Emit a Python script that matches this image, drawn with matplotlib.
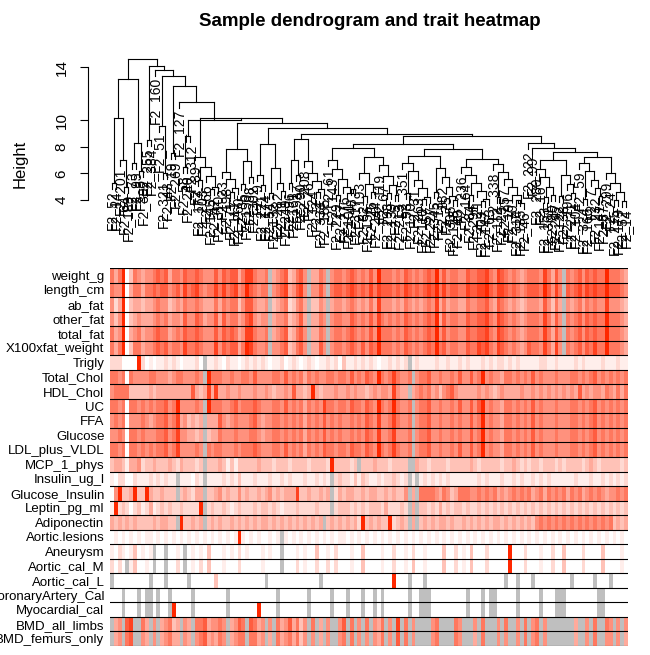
import numpy as np
import matplotlib
matplotlib.use("Agg")
import matplotlib.pyplot as plt
from matplotlib.colors import LinearSegmentedColormap

plt.rcParams["font.family"] = ["Liberation Sans", "DejaVu Sans"]

# ---------------- trait heatmap (0-9 = intensity, g = missing) ----------------
traits = ["weight_g", "length_cm", "ab_fat", "other_fat", "total_fat", "X100xfat_weight",
          "Trigly", "Total_Chol", "HDL_Chol", "UC", "FFA", "Glucose", "LDL_plus_VLDL",
          "MCP_1_phys", "Insulin_ug_l", "Glucose_Insulin", "Leptin_pg_ml", "Adiponectin",
          "Aortic.lesions", "Aneurysm", "Aortic_cal_M", "Aortic_cal_L", "CoronaryArtery_Cal",
          "Myocardial_cal", "BMD_all_limbs", "BMD_femurs_only"]

heat_rows = [
    "6469036545 5676746657 6676555757 6774688655 6g45673467 5g4465g566 5676565759 6665657656 5676957566 5576677865 8765654566 6586475g65 6757676696 6654",
    "6559046646 6767756758 6786566868 6785697656 6g56784578 5g5575g677 6787676868 7776768767 6787968677 6687788976 8876765677 7697586g76 7868787797 7765",
    "5249034434 4565534546 5565444646 5663577544 5g34562356 4g3354g455 4565454648 5554546545 4565846455 4465566754 7654543455 5475364g54 5646565585 5543",
    "5359034544 4565645547 5576455747 5664578545 5g45563457 4g4465g566 5576565758 6565657656 5676947566 5576677865 8765654566 6586475g65 6757676696 6654",
    "6459045645 5676645657 6676555757 6764588655 6g45673467 5g4465g566 5676565759 6665657656 5676957566 5576677865 8765654566 6586475g65 6757676696 6654",
    "6469036645 5676756658 6676555857 6774698655 6g55673467 5g4475g566 5676575769 6665657656 5676967566 5576687865 8765654576 6586485g65 6757686696 6654",
    "2220000920 1011212101 1120g11210 2110121212 1011201210 1210112120 3112121210 1121212g12 1111211211 2121112121 2212121111 1221121111 2121111211 1211",
    "6656065555 6655545665 5565g96665 5655665755 5566575656 4656556656 6575657659 65686556g5 6675565565 7557569565 5466565657 5655565556 6565675656 5656",
    "5666633333 4344444444 4743484844 5445444544 5434454744 3494344454 4545443454 5548544g45 6564535675 4444454543 4544445445 4545454545 4745455465 4646",
    "6656066565 6566756955 5565g96665 5675666765 5566575656 4656586656 6576657659 65696556g5 6675565565 7557579565 5466565657 5655565556 6565675656 5656",
    "5656055565 4566756845 3434g44475 4565556754 5566565656 4656575656 5565657658 55686556g5 6675565565 6557569565 5466565657 5655565556 6565675656 5656",
    "5565066565 5566756855 4434g34465 5565556654 5566565656 4656575656 5565657658 55685556g5 6675565565 6557569565 5466565657 5655565556 6565675656 5656",
    "6656066565 6566756855 5565g65665 5565666765 5566575656 4656576656 6576657659 65686556g5 6675565565 7557569565 5466565657 5655565556 6565675656 5656",
    "3443144523 3433343243 3323g33343 1313333343 3323332333 3233332933 3323g33343 3323333gg4 3323333233 3334323333 3233432323 3233323233 3323432333 3323",
    "1022002111 2121211g11 1021g11112 1213111211 1211212111 2112121g23 2213132112 1223212g1g 1212121211 1111121211 1211212112 1212111111 2111211212 1212",
    "0593349339 4334333g34 3244g33453 4335343343 4534344483 3433434g24 3443343443 3434335g4g 6666546534 6665565656 4545656564 5646565646 5645656545 5656",
    "1923202312 4123232232 2229g23223 2123222323 3232122232 2223222g23 3323232333 2422232g4g 3323242323 3232232323 2323232323 2323232323 2323232323 2323",
    "4343434333 3434433g93 3434g34343 3434343434 4343434343 43434g3434 3434293434 3392343g4g 3434344343 3434343434 4343434343 5656565656 5656565656 3434",
    "0101010101 1010101010 1010101010 1019101010 0101g10101 0101010101 1010101010 1010101010 1010101010 1010101010 1010101010 1010101010 1010101010 1010",
    "1021013010 1g00g0010g 0101030001 0102010001 0100g00010 1003001020 0010030000 1002001020 0100003002 0103000200 0009000200 0100200300 0020000300 0010",
    "2020g13001 0g00g0020g 0102030001 0002000001 0000g00020 1002002020 0010030000 1002001030 0100003002 0103000200 0009000200 0100200300 0020000300 0010",
    "g000000000 g000g00000 g000000300 0000000000 g000000000 0000g00000 0000000000 0009000g00 0g00000000 0000000000 00g00g000g 000000000g 00000g000g 0000",
    "000g000g0g g0g00g0000 0g00000000 g000000000 000g000000 0g00000g00 0g000g00g0 g000000g00 ggg0000000 00g000g0gg 00000g0000 0g000ggg00 000000gg00 0000",
    "000g000g0g g0g00g9000 0g00000000 g000000090 000g000000 0g00000g00 0g000g00g0 g000000g00 ggg0000000 00g000g0gg 00000g0000 0g000ggg00 000000gg00 0000",
    "g45g78gg64 g5g45634g5 4g66745565 g4576g7645 g5g6457463 5g6g4g5gg5 7g6g5g6g54 6g5g8g6g5g ggg56gggg6 5ggg5g6ggg 5g6gg5g6g5 6g5ggggggg 4gg5g6gg65 g5g5",
    "g45g67gg54 g5g45644g5 4g56745465 g4566g6645 g4g6456463 5g5g4g5gg5 6g6g5g5g54 6g5g7g6g5g ggg56gggg6 5ggg4g6ggg 5g5gg5g6g5 6g5ggggggg 4gg5g6gg55 g5g4",
]

# ---------------- dendrogram merge heights ----------------
leaf_ids = [52, 14, 201, 64, 189, 73, 95, 8, 392, 255, 384, 160, 51, 321, 43, 19, 269, 127,
            58, 240, 312, 89, 177, 203, 66, 145, 42, 310, 23, 198, 71, 117, 260, 35, 150, 88,
            302, 9, 221, 174, 54, 132, 282, 11, 249, 96, 161, 37, 290, 208, 76, 124, 2, 333,
            185, 61, 143, 229, 17, 276, 101, 48, 317, 193, 82, 156, 26, 244, 119, 67, 298, 139,
            5, 213, 351, 93, 170, 31, 263, 110, 57, 227, 345, 13, 182, 75, 305, 128, 40, 236,
            164, 84, 291, 21, 209, 147, 63, 338, 112, 29, 257, 191, 70, 314, 135, 46, 222, 99,
            280, 16, 153, 361, 80, 247, 122, 38, 196, 271, 104, 59, 324, 166, 7, 232, 141, 87,
            299, 24, 215, 179]

L = None


def ladder(hs, items):
    res = items[-1]
    for item, h in zip(reversed(items[:-1]), hs):
        res = (h, item, res)
    return res


G0 = (13.1, (10.2, (5.3, L, L), (7.0, L, (5.0, L, L))), (8.3, (6.8, L, L), (6.2, L, L)))
A = ladder([5.0, 5.8, 6.5, 7.2], [L, (5.5, L, L), L, (4.8, L, L), L])
B = (7.8, ladder([4.9, 5.6, 6.1], [L, L, (4.6, L, L), L]), (6.9, (5.2, L, L), (5.7, L, L)))
C = (8.2, ladder([5.1, 5.9], [L, L, L]), ladder([4.7, 5.3, 6.4], [(4.5, L, L), L, L, L]))
D = (8.6, (7.0, (5.3, L, L), (5.9, L, L)), ladder([4.8, 5.4, 6.0, 6.9], [L, L, L, (4.6, L, L), L]))
CC1 = (7.9, ladder([4.5, 5.0, 5.6, 6.3, 7.0], [L, L, (4.4, L, L), L, L, (4.8, L, L)]),
       (7.2, ladder([4.6, 5.2, 6.0], [L, (4.3, L, L), L, L]),
        ladder([4.4, 5.1, 5.8, 6.6], [L, L, (4.5, L, L), L, L])))
X1 = ladder([4.2, 4.9, 5.5, 6.2, 6.8], [L, (4.5, L, L), L, L, (4.1, L, L), L])
X2 = ladder([4.3, 5.0, 5.7, 6.4], [(4.6, L, L), L, L, L, (4.0, L, L)])
X3 = ladder([4.1, 4.7, 5.3, 5.9, 6.5], [L, L, (4.4, L, L), L, (3.9, L, L), L])
X4 = ladder([3.8, 4.4, 5.0, 5.6, 6.1, 6.7], [L, (4.2, L, L), L, L, L, (4.0, L, L), L])
CC = (8.2, CC1, (7.8, (7.3, X1, X2), (7.1, X3, X4)))
Y1 = ladder([4.4, 5.0, 5.7, 6.3], [L, L, (4.2, L, L), L, L])
Y2 = ladder([4.5, 5.2, 5.9], [(4.3, L, L), L, L, L])
Y3 = ladder([4.3, 4.9, 5.5, 6.2, 6.8], [L, (4.1, L, L), L, L, L, L])
Y4 = ladder([3.9, 4.6, 5.3, 6.0], [L, L, (4.0, L, L), L, L])
RC = (8.3, L, (7.9, L, (7.6, (7.0, Y1, Y2), (7.2, Y3, Y4))))
BIG = (8.8, CC, RC)
MAIN = ladder([9.0, 9.4, 9.8, 10.2], [A, B, C, D, BIG])
R = ladder([10.0, 11.4, 12.6, 13.3, 13.8, 14.1],
           [(8.5, L, L), L, (9.6, L, (6.0, L, L)), (7.5, L, L), L, (8.8, (6.5, L, L), L), MAIN])
tree = (14.6, G0, R)

# ---------------- figure ----------------
W, H = 650, 655
fig = plt.figure(figsize=(W / 100, H / 100), dpi=100)

rows = [r.replace(" ", "") for r in heat_rows]
n = max(len(r) for r in rows)
rows = [r.ljust(n, "0") for r in rows]


def count(t):
    return 1 if t is None else count(t[1]) + count(t[2])


nleaf = count(tree)
x0px, x1px = 112, 626
ax_l, ax_r = 88, 640
s = (x1px - x0px) / (nleaf - 1)
ax_top, ax_bot = 40, 265
yscale = 13.3
ax = fig.add_axes([ax_l / W, 1 - ax_bot / H, (ax_r - ax_l) / W, (ax_bot - ax_top) / H])
ax.set_xlim(-(x0px - ax_l) / s, (nleaf - 1) + (ax_r - x1px) / s)
ax.set_ylim(4 - (ax_bot - 200) / yscale, 14 + (67 - ax_top) / yscale)

hang = 0.45
counter = [0]


def draw(t, parent_h):
    if t is None:
        i = counter[0]
        counter[0] += 1
        ax.plot([i, i], [parent_h, parent_h - hang], color="black", lw=0.8)
        ax.text(i, parent_h - hang - 0.1, "F2_%d" % leaf_ids[i % len(leaf_ids)], rotation=90,
                ha="center", va="top", fontsize=10)
        return i, None
    h, a, b = t
    xa, ha = draw(a, h)
    xb, hb = draw(b, h)
    for xc, hc in ((xa, ha), (xb, hb)):
        if hc is not None:
            ax.plot([xc, xc], [hc, h], color="black", lw=0.8)
    ax.plot([xa, xb], [h, h], color="black", lw=0.8)
    return (xa + xb) / 2, h


draw(tree, None)
for sp in ["top", "right", "bottom"]:
    ax.spines[sp].set_visible(False)
ax.spines["left"].set_bounds(4, 14)
ax.set_xticks([])
ax.set_yticks([4, 6, 8, 10, 14])
ax.tick_params(axis="y", labelsize=11, labelrotation=90, length=6, pad=8)
for lab in ax.get_yticklabels():
    lab.set_va("center")
ax.set_ylabel("Height", fontsize=12)
ax.yaxis.set_label_coords(-0.11, 0.45)
fig.text(370 / W, 1 - 22 / H, "Sample dendrogram and trait heatmap", ha="center", va="center",
         fontsize=13.5, fontweight="bold")

# heatmap
cmap = LinearSegmentedColormap.from_list("wr", ["#FFFFFF", "#FF2800"])
rgb = np.zeros((len(rows), n, 3))
for r, row in enumerate(rows):
    for c, ch in enumerate(row):
        rgb[r, c] = (0.75, 0.75, 0.75) if ch == "g" else cmap((int(ch) / 9) ** 1.15)[:3]

hx_l, hx_r, hy_t, hy_b = 110, 628, 268, 646
hax = fig.add_axes([hx_l / W, 1 - hy_b / H, (hx_r - hx_l) / W, (hy_b - hy_t) / H])
hax.imshow(rgb, aspect="auto", interpolation="nearest", extent=(0, n, len(rows), 0))
for k in range(len(rows) + 1):
    hax.axhline(k, color="black", lw=0.8)
hax.set_xticks([])
hax.set_yticks(np.arange(len(rows)) + 0.5)
hax.set_yticklabels(traits, fontsize=9.5)
hax.tick_params(axis="y", length=0, pad=4)
for sp in hax.spines.values():
    sp.set_visible(False)

fig.savefig("out.png", dpi=100)
